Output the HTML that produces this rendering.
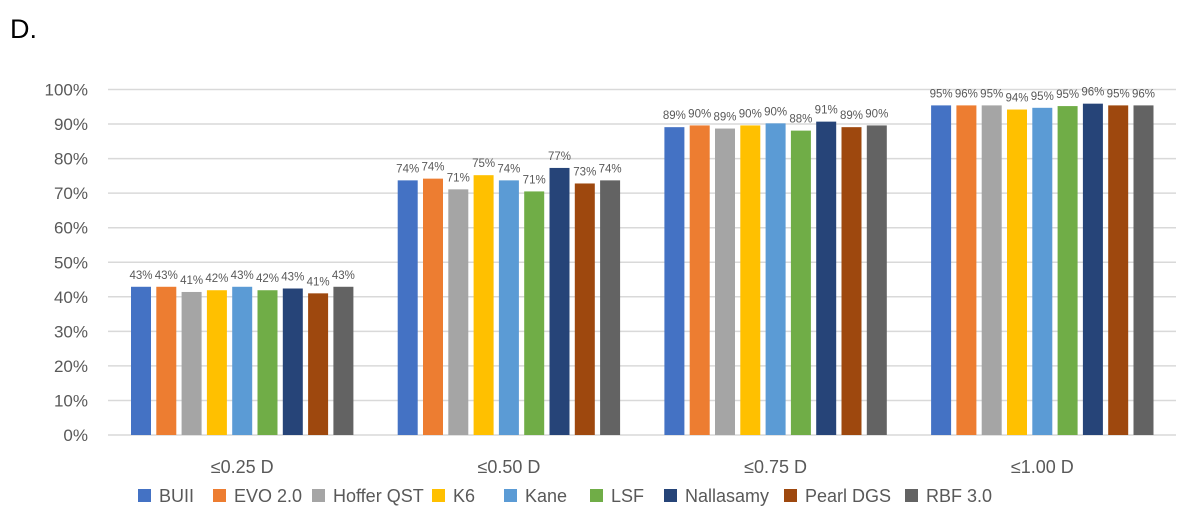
<!DOCTYPE html>
<html><head><meta charset="utf-8"><style>
body{margin:0;background:#fff;}
svg{display:block;font-family:"Liberation Sans",sans-serif;}
</style></head><body>
<svg id="chart" width="1200" height="524" viewBox="0 0 1200 524">
<text x="10" y="38" font-size="27" fill="#000">D.</text>
<g id="grid"></g><g id="bars"></g><g id="labels"></g><g id="legend"></g>
</svg>
<script>
const categories=["≤0.25 D","≤0.50 D","≤0.75 D","≤1.00 D"];
const seriesNames=["BUII","EVO 2.0","Hoffer QST","K6","Kane","LSF","Nallasamy","Pearl DGS","RBF 3.0"];
const BUII=[42.9,73.7,89.1,95.4];
const EVO=[42.9,74.2,89.6,95.4];
const Hoffer=[41.4,71.1,88.7,95.4];
const K6=[41.9,75.2,89.6,94.2];
const Kane=[42.9,73.7,90.2,94.7];
const LSF=[41.9,70.5,88.1,95.2];
const Nallasamy=[42.4,77.3,90.7,95.9];
const Pearl=[41.0,72.8,89.1,95.4];
const RBF=[42.9,73.7,89.6,95.4];
const printed=[["43%","74%","89%","95%"],["43%","74%","90%","96%"],["41%","71%","89%","95%"],["42%","75%","90%","94%"],["43%","74%","90%","95%"],["42%","71%","88%","95%"],["43%","77%","91%","96%"],["41%","73%","89%","95%"],["43%","74%","90%","96%"]];
const yTicks=[0,10,20,30,40,50,60,70,80,90,100];
const series=[BUII,EVO,Hoffer,K6,Kane,LSF,Nallasamy,Pearl,RBF];
const colors=["#4472c4","#ed7d31","#a5a5a5","#ffc000","#5b9bd5","#70ad47","#264478","#9e480e","#636363"];
const NS="http://www.w3.org/2000/svg";
const y0=435,pxPer=3.455,plotL=108,plotR=1176,groupStart=131,groupW=266.7,barStep=25.3,barW=20;
const y=v=>y0-v*pxPer;
const xBar=(g,s)=>groupStart+g*groupW+s*barStep;
function mk(tag,attrs,parent,text){const e=document.createElementNS(NS,tag);for(const k in attrs)e.setAttribute(k,attrs[k]);if(text!==undefined)e.textContent=text;document.getElementById(parent).appendChild(e);return e;}
yTicks.forEach(t=>{
 const l=mk("line",{x1:plotL,x2:plotR,y1:y(t),y2:y(t),stroke:"#d9d9d9","stroke-width":1.5},"grid");
 
 
 const tx=mk("text",{x:88,y:y(t)+6,"text-anchor":"end","font-size":17,fill:"#595959"},"grid",t+"%");
 
 
});
categories.forEach((c,g)=>{
 const cx=xBar(g,0)+(barStep*8+barW)/2;
 const t=mk("text",{x:cx,y:473,"text-anchor":"middle","font-size":18,fill:"#595959"},"labels",c);
 
 
 series.forEach((arr,s)=>{
  const v=arr[g];
  const r=mk("rect",{x:xBar(g,s),y:y(v),width:barW,height:v*pxPer,fill:colors[s]},"bars");
  
  
  const lt=mk("text",{x:xBar(g,s)+barW/2,y:y(v)-8,"text-anchor":"middle","font-size":11.5,fill:"#595959"},"labels",printed[s][g]);
  
  
 });
});
const legX=[138,213,312,432,504,590,664,784,905];
seriesNames.forEach((n,i)=>{
 const r=mk("rect",{x:legX[i],y:489,width:13,height:13,fill:colors[i]},"legend");
 
 
 const t=mk("text",{x:legX[i]+21,y:502,"font-size":18,fill:"#595959"},"legend",n);
 
 
});
</script>
</body></html>
